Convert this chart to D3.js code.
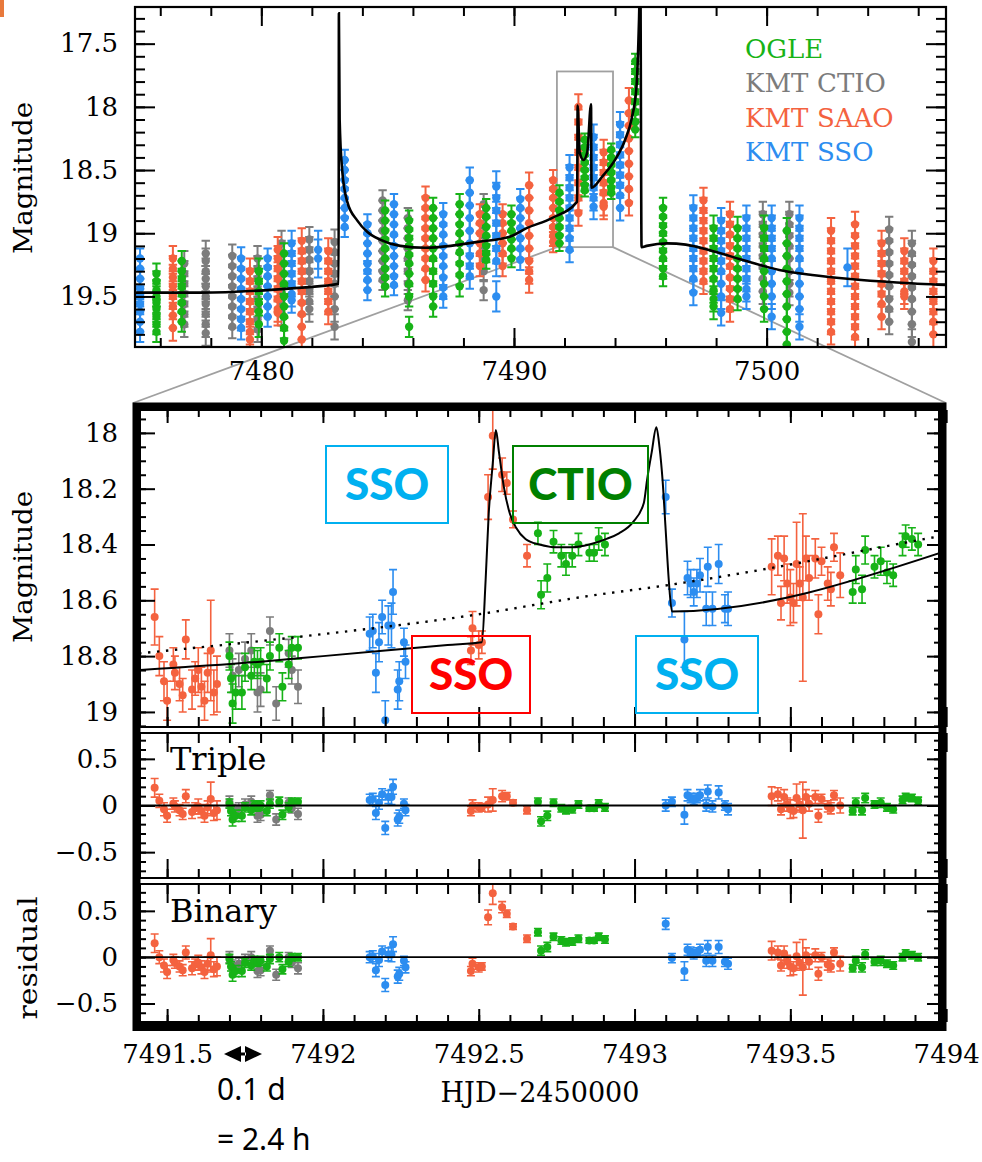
<!DOCTYPE html>
<html>
<head>
<meta charset="utf-8">
<script src="https://cdn.jsdelivr.net/npm/d3@7"></script>
<style>
  body { margin: 0; background: #fff; }
</style>
</head>
<body>
<svg id="chart" width="982" height="1162"></svg>
<script>
// ---- data ----
// top panel: nightly clusters [HJD', error, [magnitudes]]
const topOGLE = [
  [7475.85, 0.08, [19.32, 19.38, 19.45, 19.5, 19.55, 19.6, 19.66, 19.72, 19.78]],
  [7476.85, 0.08, [19.22, 19.3, 19.36, 19.42, 19.48, 19.55, 19.62, 19.7]],
  [7479.9, 0.1, [19.3, 19.38, 19.46, 19.55, 19.62, 19.72]],
  [7480.9, 0.08, [19.16, 19.24, 19.32, 19.4, 19.5, 19.58, 19.66, 19.75, 19.85]],
  [7484.9, 0.08, [18.82, 18.9, 18.98, 19.05, 19.12, 19.2, 19.28, 19.35, 19.42]],
  [7485.85, 0.08, [18.9, 18.97, 19.04, 19.1, 19.17, 19.24, 19.32, 19.4, 19.5, 19.74]],
  [7486.8, 0.08, [18.8, 18.88, 18.96, 19.04, 19.12, 19.2, 19.3, 19.4, 19.5, 19.58]],
  [7487.85, 0.08, [18.77, 18.85, 18.93, 19.0, 19.08, 19.15, 19.24, 19.33, 19.42]],
  [7488.9, 0.07, [18.8, 18.87, 18.95, 19.02, 19.1, 19.16, 19.21]],
  [7489.9, 0.07, [18.85, 18.92, 18.98, 19.05, 19.12, 19.2]],
  [7491.8, 0.06, [18.68, 18.75, 18.82, 18.88, 18.95, 19.02, 19.08]],
  [7492.8, 0.05, [18.26, 18.32, 18.38, 18.44, 18.5, 18.56, 18.62, 18.66]],
  [7493.85, 0.05, [18.34, 18.4, 18.46, 18.52, 18.58, 18.64, 18.68]],
  [7494.8, 0.06, [17.64, 17.72, 17.8, 17.88, 17.96, 18.04, 18.12, 18.18]],
  [7495.9, 0.08, [18.8, 18.87, 18.94, 19.0, 19.07, 19.14, 19.2, 19.28, 19.34]],
  [7497.9, 0.1, [18.96, 19.04, 19.12, 19.2, 19.28, 19.36, 19.45, 19.52, 19.58]],
  [7498.85, 0.09, [18.96, 19.04, 19.12, 19.2, 19.28, 19.36, 19.44, 19.52]],
  [7499.9, 0.1, [18.96, 19.04, 19.12, 19.2, 19.3, 19.4, 19.5, 19.6]],
  [7500.8, 0.1, [18.98, 19.08, 19.18, 19.28, 19.38, 19.48, 19.58, 19.68, 19.78, 19.88]]
];
const topCTIO = [
  [7476.95, 0.1, [19.24, 19.32, 19.4, 19.48, 19.56, 19.64, 19.72]],
  [7477.8, 0.1, [19.16, 19.22, 19.3, 19.36, 19.42, 19.5, 19.56, 19.64, 19.72, 19.79]],
  [7478.85, 0.09, [19.18, 19.26, 19.34, 19.42, 19.5, 19.58, 19.66, 19.74]],
  [7479.85, 0.1, [19.2, 19.28, 19.36, 19.44, 19.52, 19.6, 19.68, 19.76]],
  [7480.8, 0.1, [19.08, 19.16, 19.24, 19.32, 19.4, 19.48, 19.56, 19.63]],
  [7481.9, 0.1, [19.05, 19.13, 19.21, 19.3, 19.38, 19.46, 19.54, 19.6]],
  [7482.9, 0.1, [19.07, 19.15, 19.24, 19.32, 19.4, 19.5, 19.6, 19.74]],
  [7484.8, 0.08, [18.74, 18.82, 18.9, 18.98, 19.06, 19.14, 19.22, 19.3, 19.37]],
  [7485.8, 0.08, [18.88, 18.96, 19.04, 19.12, 19.2, 19.3, 19.4, 19.53]],
  [7488.8, 0.08, [18.77, 18.85, 18.94, 19.02, 19.1, 19.2, 19.3, 19.45]],
  [7499.85, 0.1, [18.85, 18.93, 19.01, 19.1, 19.18, 19.27, 19.36, 19.46]],
  [7500.9, 0.1, [18.85, 18.93, 19.02, 19.1, 19.2, 19.3, 19.4, 19.47]],
  [7504.85, 0.1, [18.97, 19.06, 19.15, 19.24, 19.33, 19.42, 19.52, 19.6, 19.7]],
  [7505.75, 0.1, [19.08, 19.16, 19.25, 19.34, 19.43, 19.52, 19.62, 19.72, 19.86]]
];
const topSAAO = [
  [7476.5, 0.1, [19.2, 19.28, 19.35, 19.42, 19.5, 19.58, 19.65, 19.75]],
  [7479.55, 0.1, [19.3, 19.38, 19.46, 19.54, 19.62, 19.7, 19.78, 19.84]],
  [7480.65, 0.1, [19.13, 19.2, 19.28, 19.36, 19.44, 19.52, 19.6, 19.63]],
  [7481.6, 0.1, [19.06, 19.14, 19.22, 19.3, 19.38, 19.46, 19.55, 19.64, 19.74, 19.84]],
  [7482.65, 0.1, [19.14, 19.22, 19.3, 19.38, 19.46, 19.54, 19.62]],
  [7486.5, 0.09, [18.72, 18.8, 18.88, 18.96, 19.04, 19.12, 19.2, 19.28, 19.37]],
  [7488.65, 0.08, [18.85, 18.92, 19.0, 19.08, 19.16, 19.26]],
  [7489.55, 0.08, [18.85, 18.92, 19.0, 19.08, 19.16, 19.26]],
  [7490.6, 0.1, [18.62, 18.72, 18.82, 18.92, 19.02, 19.12, 19.22, 19.3, 19.37]],
  [7491.55, 0.08, [18.58, 18.65, 18.72, 18.8, 18.88, 18.95, 19.02, 19.07]],
  [7492.55, 0.1, [18.0, 18.12, 18.24, 18.36, 18.48, 18.6, 18.72, 18.84]],
  [7493.55, 0.1, [18.36, 18.44, 18.52, 18.6, 18.68, 18.76, 18.79]],
  [7494.55, 0.1, [17.95, 18.05, 18.15, 18.25, 18.35, 18.45, 18.55, 18.65, 18.76]],
  [7497.5, 0.1, [18.74, 18.82, 18.9, 18.98, 19.06, 19.14, 19.22, 19.3, 19.38]],
  [7498.55, 0.1, [18.85, 18.93, 19.01, 19.1, 19.18, 19.26, 19.35, 19.44, 19.52, 19.6]],
  [7502.55, 0.1, [18.98, 19.06, 19.14, 19.22, 19.3, 19.38, 19.46, 19.54, 19.62, 19.7, 19.78]],
  [7503.5, 0.1, [18.93, 19.02, 19.1, 19.18, 19.26, 19.34, 19.42, 19.5, 19.58, 19.66, 19.74, 19.82]],
  [7504.55, 0.1, [19.08, 19.16, 19.24, 19.32, 19.4, 19.48, 19.56, 19.66]],
  [7505.45, 0.1, [19.14, 19.22, 19.3, 19.38, 19.46, 19.5]],
  [7506.6, 0.1, [19.22, 19.3, 19.38, 19.46, 19.54, 19.62, 19.7, 19.8]]
];
const topSSO = [
  [7475.2, 0.08, [19.2, 19.28, 19.36, 19.44, 19.5, 19.56, 19.62, 19.7, 19.78]],
  [7479.2, 0.09, [19.2, 19.28, 19.36, 19.44, 19.52, 19.6, 19.68, 19.75]],
  [7480.25, 0.08, [19.2, 19.27, 19.34, 19.42, 19.5, 19.58, 19.66]],
  [7481.2, 0.1, [19.08, 19.16, 19.24, 19.32, 19.4, 19.48, 19.53]],
  [7482.25, 0.15, [19.13, 19.2]],
  [7483.3, 0.08, [18.42, 18.5, 18.58, 18.65, 18.72, 18.8, 18.88, 18.95]],
  [7484.2, 0.08, [18.93, 19.0, 19.08, 19.16, 19.24, 19.3, 19.37, 19.45]],
  [7485.25, 0.08, [18.77, 18.85, 18.93, 19.01, 19.1, 19.18, 19.26, 19.34, 19.41]],
  [7487.2, 0.09, [18.85, 18.93, 19.01, 19.1, 19.18, 19.26, 19.35, 19.43, 19.5]],
  [7488.25, 0.1, [18.58, 18.68, 18.78, 18.88, 18.98, 19.08, 19.18, 19.26, 19.34]],
  [7489.3, 0.12, [18.63, 18.72, 18.82, 18.92, 19.02, 19.12, 19.22, 19.5]],
  [7490.25, 0.08, [18.73, 18.8, 18.88, 18.96, 19.04, 19.12, 19.21]],
  [7492.2, 0.1, [18.48, 18.56, 18.64, 18.72, 18.8, 18.88, 18.96, 19.04, 19.13]],
  [7493.15, 0.1, [18.24, 18.32, 18.4, 18.48, 18.56, 18.64, 18.72, 18.79]],
  [7494.2, 0.1, [18.14, 18.22, 18.3, 18.38, 18.46, 18.54, 18.62, 18.7, 18.8]],
  [7497.1, 0.1, [18.8, 18.88, 18.96, 19.04, 19.12, 19.2, 19.28, 19.36, 19.47]],
  [7498.2, 0.1, [18.9, 18.98, 19.06, 19.14, 19.22, 19.3, 19.4, 19.5, 19.63]],
  [7499.2, 0.1, [18.88, 18.96, 19.04, 19.12, 19.2, 19.28, 19.36, 19.44, 19.5]],
  [7500.2, 0.1, [18.88, 18.96, 19.04, 19.12, 19.2, 19.3, 19.4, 19.5, 19.66]],
  [7501.3, 0.1, [18.88, 18.96, 19.04, 19.12, 19.2, 19.3, 19.4, 19.5, 19.6, 19.74]],
  [7503.2, 0.15, [19.27]]
];

// zoomed panels: [HJD', magnitude, error, triple residual, binary residual]
const lowSAAO = [
  [7491.46, 18.66, 0.10, 0.19, 0.15], [7491.475, 18.80, 0.07, 0.05, 0.00],
  [7491.49, 18.89, 0.07, -0.04, -0.09], [7491.50, 18.96, 0.07, -0.11, -0.16],
  [7491.52, 18.83, 0.06, 0.02, -0.03], [7491.525, 18.86, 0.06, -0.01, -0.06],
  [7491.54, 18.90, 0.06, -0.05, -0.10], [7491.55, 18.94, 0.06, -0.09, -0.14],
  [7491.56, 18.74, 0.07, 0.10, 0.05], [7491.58, 18.92, 0.07, -0.07, -0.12],
  [7491.59, 18.88, 0.06, -0.03, -0.08], [7491.60, 18.85, 0.08, -0.01, -0.06],
  [7491.61, 18.91, 0.07, -0.06, -0.11], [7491.62, 18.96, 0.07, -0.11, -0.16],
  [7491.63, 18.86, 0.07, -0.02, -0.07], [7491.64, 18.78, 0.18, 0.07, 0.02],
  [7491.65, 18.93, 0.08, -0.08, -0.13], [7491.66, 18.90, 0.10, -0.05, -0.10],
  [7492.475, 18.78, 0.05, -0.06, -0.15], [7492.48, 18.70, 0.06, 0.00, -0.07],
  [7492.50, 18.76, 0.05, -0.02, -0.11], [7492.51, 18.75, 0.04, -0.02, -0.10],
  [7492.53, 18.23, 0.08, 0.01, 0.43], [7492.545, 18.01, 0.12, 0.06, 0.69],
  [7492.575, 18.15, 0.06, 0.10, 0.54], [7492.59, 18.18, 0.04, 0.10, 0.47],
  [7492.61, 18.31, 0.03, 0.03, 0.33], [7492.655, 18.44, 0.04, -0.05, 0.20],
  [7493.44, 18.48, 0.10, 0.10, 0.07], [7493.46, 18.44, 0.07, 0.12, 0.05],
  [7493.47, 18.61, 0.06, -0.04, -0.09], [7493.48, 18.45, 0.08, 0.09, 0.04],
  [7493.49, 18.54, 0.07, 0.01, -0.05], [7493.50, 18.59, 0.10, -0.04, -0.10],
  [7493.51, 18.61, 0.07, -0.06, -0.12], [7493.52, 18.47, 0.15, 0.08, 0.01],
  [7493.53, 18.54, 0.06, 0.01, -0.06], [7493.54, 18.59, 0.30, -0.05, -0.11],
  [7493.55, 18.45, 0.08, 0.09, 0.02], [7493.56, 18.52, 0.08, 0.02, -0.05],
  [7493.58, 18.45, 0.07, 0.09, 0.02], [7493.59, 18.65, 0.07, -0.11, -0.18],
  [7493.60, 18.46, 0.05, 0.07, 0.00], [7493.62, 18.54, 0.06, -0.01, -0.08],
  [7493.63, 18.56, 0.06, -0.03, -0.10], [7493.64, 18.41, 0.05, 0.11, 0.05],
  [7493.66, 18.51, 0.08, 0.00, -0.07]
];
const lowCTIO = [
  [7491.70, 18.78, 0.06, 0.04, 0.00], [7491.71, 18.87, 0.06, -0.05, -0.09],
  [7491.73, 18.85, 0.06, -0.03, -0.07], [7491.75, 18.81, 0.06, 0.01, -0.03],
  [7491.77, 18.78, 0.06, 0.04, 0.00], [7491.79, 18.93, 0.07, -0.11, -0.15],
  [7491.80, 18.92, 0.06, -0.10, -0.14], [7491.83, 18.71, 0.05, 0.11, 0.07],
  [7491.85, 18.97, 0.06, -0.15, -0.19], [7491.89, 18.79, 0.05, 0.03, 0.00],
  [7491.90, 18.85, 0.05, -0.03, -0.06], [7491.92, 18.91, 0.06, -0.09, -0.12]
];
const lowOGLE = [
  [7491.70, 18.80, 0.05, 0.02, -0.02], [7491.705, 18.88, 0.05, -0.06, -0.10],
  [7491.71, 18.97, 0.07, -0.15, -0.19], [7491.72, 18.93, 0.06, -0.11, -0.15],
  [7491.74, 18.93, 0.06, -0.11, -0.15], [7491.75, 18.84, 0.05, -0.02, -0.06],
  [7491.77, 18.87, 0.05, -0.05, -0.09], [7491.78, 18.82, 0.05, 0.00, -0.04],
  [7491.79, 18.83, 0.05, -0.01, -0.05], [7491.80, 18.82, 0.05, 0.00, -0.04],
  [7491.82, 18.88, 0.05, -0.06, -0.10], [7491.83, 18.80, 0.05, 0.02, -0.02],
  [7491.86, 18.77, 0.05, 0.04, 0.00], [7491.87, 18.91, 0.05, -0.10, -0.13],
  [7491.89, 18.83, 0.05, -0.02, -0.05], [7491.90, 18.77, 0.04, 0.04, 0.00],
  [7491.92, 18.77, 0.04, 0.04, 0.00],
  [7492.69, 18.36, 0.04, 0.04, 0.27], [7492.70, 18.58, 0.05, -0.17, 0.07],
  [7492.72, 18.52, 0.05, -0.11, 0.11], [7492.74, 18.39, 0.04, 0.03, 0.22],
  [7492.765, 18.44, 0.04, -0.03, 0.18], [7492.78, 18.47, 0.04, -0.05, 0.16],
  [7492.80, 18.44, 0.04, -0.04, 0.17], [7492.82, 18.40, 0.04, 0.01, 0.20],
  [7492.855, 18.43, 0.03, -0.03, 0.18], [7492.87, 18.43, 0.03, -0.03, 0.18],
  [7492.885, 18.38, 0.04, 0.02, 0.22], [7492.905, 18.40, 0.04, -0.02, 0.19],
  [7493.70, 18.57, 0.04, -0.06, -0.12], [7493.71, 18.49, 0.05, 0.03, -0.04],
  [7493.73, 18.56, 0.05, -0.05, -0.11], [7493.74, 18.42, 0.05, 0.08, 0.03],
  [7493.77, 18.48, 0.04, 0.01, -0.05], [7493.79, 18.46, 0.05, 0.03, -0.04],
  [7493.81, 18.50, 0.04, -0.02, -0.07], [7493.83, 18.51, 0.04, -0.04, -0.09],
  [7493.86, 18.40, 0.04, 0.06, 0.00], [7493.87, 18.37, 0.04, 0.09, 0.04],
  [7493.89, 18.38, 0.04, 0.08, 0.02], [7493.91, 18.40, 0.04, 0.05, 0.00]
];
const lowSSO = [
  [7492.15, 18.72, 0.06, 0.06, 0.00], [7492.16, 18.71, 0.06, 0.07, 0.01],
  [7492.17, 18.86, 0.07, -0.08, -0.14], [7492.18, 18.75, 0.07, 0.03, -0.03],
  [7492.19, 18.66, 0.06, 0.12, 0.06], [7492.20, 19.03, 0.07, -0.24, -0.30],
  [7492.21, 18.69, 0.07, 0.09, 0.03], [7492.22, 18.69, 0.08, 0.09, 0.03],
  [7492.225, 18.57, 0.08, 0.20, 0.14], [7492.24, 18.92, 0.07, -0.15, -0.21],
  [7492.245, 18.89, 0.07, -0.12, -0.18], [7492.26, 18.75, 0.05, 0.02, -0.04],
  [7492.265, 18.82, 0.06, -0.05, -0.11],
  [7493.10, 18.23, 0.06, 0.00, 0.36], [7493.12, 18.61, 0.05, 0.04, -0.01],
  [7493.16, 18.74, 0.10, -0.10, -0.15], [7493.17, 18.52, 0.06, 0.11, 0.08],
  [7493.18, 18.54, 0.05, 0.08, 0.06], [7493.19, 18.57, 0.05, 0.06, 0.03],
  [7493.20, 18.54, 0.05, 0.08, 0.05], [7493.21, 18.51, 0.06, 0.11, 0.08],
  [7493.23, 18.63, 0.06, 0.00, -0.04], [7493.235, 18.48, 0.07, 0.15, 0.11],
  [7493.25, 18.63, 0.06, -0.01, -0.04], [7493.27, 18.47, 0.07, 0.14, 0.11],
  [7493.29, 18.63, 0.05, 0.00, -0.05], [7493.30, 18.63, 0.06, -0.04, -0.07]
];

// model light curves [HJD', magnitude]
const topModel = [
  [7475.0, 19.47], [7477.6, 19.47], [7480.25, 19.45], [7481.6, 19.43], [7483.06, 19.40],
  [7483.07, 17.26], [7483.1, 18.1], [7483.2, 18.5], [7483.4, 18.75], [7483.8, 18.9],
  [7484.2, 18.99], [7484.7, 19.05], [7485.5, 19.1], [7486.5, 19.115], [7487.5, 19.1],
  [7488.5, 19.07], [7489.8, 19.03], [7490.5, 18.96], [7491.5, 18.88], [7492.5, 18.75],
  [7492.52, 17.99], [7492.6, 18.36], [7492.75, 18.42], [7492.9, 18.36], [7493.05, 17.98],
  [7493.07, 18.64], [7493.5, 18.55], [7494.0, 18.42], [7494.4, 18.26], [7494.65, 18.1],
  [7494.85, 17.84], [7494.95, 17.31], [7495.0, 16.9], [7495.05, 19.11], [7495.25, 19.1],
  [7496.05, 19.08], [7496.8, 19.09], [7497.85, 19.14], [7499.2, 19.22], [7500.5, 19.29],
  [7501.8, 19.33], [7503.2, 19.36], [7505.15, 19.39], [7507.1, 19.41]
];
const tripleModel = [
  [7491.41, 18.85], [7491.8, 18.82], [7492.0, 18.80], [7492.2, 18.78], [7492.4, 18.76],
  [7492.51, 18.75], [7492.522, 18.53], [7492.532, 18.29], [7492.545, 18.11], [7492.555, 17.99],
  [7492.565, 18.07], [7492.58, 18.19], [7492.60, 18.29], [7492.62, 18.34], [7492.65, 18.38],
  [7492.695, 18.40], [7492.75, 18.41], [7492.80, 18.41], [7492.855, 18.40], [7492.91, 18.38],
  [7492.95, 18.36], [7492.995, 18.32], [7493.03, 18.25], [7493.04, 18.17], [7493.055, 18.07],
  [7493.07, 17.98], [7493.08, 18.05], [7493.09, 18.17], [7493.10, 18.35], [7493.11, 18.53],
  [7493.12, 18.64], [7493.98, 18.43]
];
const binaryModel = [
  [7491.41, 18.79], [7491.93, 18.73], [7492.50, 18.65], [7492.82, 18.59],
  [7493.14, 18.54], [7493.46, 18.48], [7493.79, 18.41], [7493.98, 18.37]
];

const topXTicks = [7480, 7490, 7500];
const topYTicks = [17.5, 18, 18.5, 19, 19.5];
const lowXTicks = [7491.5, 7492, 7492.5, 7493, 7493.5, 7494];
const mainYTicks = [18, 18.2, 18.4, 18.6, 18.8, 19];
const resYTicks = [-0.5, 0, 0.5];
const legendNames = [["OGLE", ""], ["KMT", "CTIO"], ["KMT", "SAAO"], ["KMT", "SSO"]];
const zoomBox = [7491.7, 7493.92, 17.72, 19.11];

const colors = { ogle: "#17b317", ctio: "#7c7c7c", saao: "#f4623f", sso: "#2c8df0" };
const serif = "DejaVu Serif";

// ---- setup ----
const svg = d3.select("#chart");
svg.append("rect").attr("x", 0).attr("y", 0).attr("width", 4).attr("height", 17).attr("fill", "#e8793c");

const fmt = d => d < 0 ? "\u2212" + Math.abs(d) : String(d);

function styleAxis(g, size) {
  g.select(".domain").remove();
  g.selectAll("line").attr("stroke", "#000").attr("stroke-width", 2);
  g.selectAll("text").attr("font-family", serif).attr("font-size", size).attr("fill", "#000");
}

function clip(id, x, y, w, h) {
  svg.append("clipPath").attr("id", id).append("rect")
    .attr("x", x).attr("y", y).attr("width", w).attr("height", h);
  return `url(#${id})`;
}

function drawPoints(g, rows, x, y, color, r, cap, sw = 1.6) {
  const p = g.append("g").attr("stroke", color).attr("fill", color).attr("stroke-width", sw);
  p.selectAll("path").data(rows).join("path")
    .attr("fill", "none")
    .attr("d", d => {
      const cx = x(d[0]), y0 = y(d[1] - d[2]), y1 = y(d[1] + d[2]);
      return `M${cx},${y0}V${y1}M${cx - cap},${y0}H${cx + cap}M${cx - cap},${y1}H${cx + cap}`;
    });
  p.selectAll("circle").data(rows).join("circle")
    .attr("stroke", "none")
    .attr("cx", d => x(d[0])).attr("cy", d => y(d[1])).attr("r", r);
}

// ---- top panel ----
const T = { l: 135, r: 946, t: 7, b: 347 };
const xTop = d3.scaleLinear().domain([7475, 7507.1]).range([T.l, T.r]);
const yTop = d3.scaleLinear().domain([17.21, 19.90]).range([T.t, T.b]);

// zoom box and connectors
const zb = svg.append("g").attr("stroke", "#a0a0a0").attr("stroke-width", 1.8).attr("fill", "none");
zb.append("rect")
  .attr("x", xTop(zoomBox[0])).attr("y", yTop(zoomBox[2]))
  .attr("width", xTop(zoomBox[1]) - xTop(zoomBox[0]))
  .attr("height", yTop(zoomBox[3]) - yTop(zoomBox[2]));
zb.append("line").attr("x1", xTop(zoomBox[0])).attr("y1", yTop(zoomBox[3])).attr("x2", 133).attr("y2", 403);
zb.append("line").attr("x1", xTop(zoomBox[1])).attr("y1", yTop(zoomBox[3])).attr("x2", 946).attr("y2", 403);

const gTop = svg.append("g").attr("clip-path", clip("clipTop", T.l, T.t, T.r - T.l, T.b - T.t));
const expand = cl => cl.flatMap(([t, e, ms]) => ms.map(m => [t, m, e]));
drawPoints(gTop, expand(topCTIO), xTop, yTop, colors.ctio, 4.2, 4.2, 2);
drawPoints(gTop, expand(topSAAO), xTop, yTop, colors.saao, 4.2, 4.2, 2);
drawPoints(gTop, expand(topSSO), xTop, yTop, colors.sso, 4.2, 4.2, 2);
drawPoints(gTop, expand(topOGLE), xTop, yTop, colors.ogle, 4.2, 4.2, 2);

gTop.append("path").datum(topModel)
  .attr("fill", "none").attr("stroke", "#000").attr("stroke-width", 2.6)
  .attr("d", d3.line().x(d => xTop(d[0])).y(d => yTop(d[1])).curve(d3.curveMonotoneX));

// top axes
const topXMinor = d3.range(7476, 7507, 2);
const topYMinor = d3.range(17.3, 19.9, 0.1);
svg.append("g").attr("transform", `translate(0,${T.b})`)
  .call(d3.axisBottom(xTop).tickValues(topXTicks).tickSize(-19).tickPadding(15).tickFormat(fmt))
  .call(g => styleAxis(g, 26));
svg.append("g").attr("transform", `translate(0,${T.b})`)
  .call(d3.axisBottom(xTop).tickValues(topXMinor).tickSize(-9).tickFormat(""))
  .call(g => styleAxis(g, 26));
svg.append("g").attr("transform", `translate(0,${T.t})`)
  .call(d3.axisTop(xTop).tickValues(topXTicks).tickSize(-19).tickFormat(""))
  .call(g => styleAxis(g, 26));
svg.append("g").attr("transform", `translate(0,${T.t})`)
  .call(d3.axisTop(xTop).tickValues(topXMinor).tickSize(-9).tickFormat(""))
  .call(g => styleAxis(g, 26));
svg.append("g").attr("transform", `translate(${T.l},0)`)
  .call(d3.axisLeft(yTop).tickValues(topYTicks).tickSize(-20).tickPadding(17).tickFormat(fmt))
  .call(g => styleAxis(g, 26));
svg.append("g").attr("transform", `translate(${T.l},0)`)
  .call(d3.axisLeft(yTop).tickValues(topYMinor).tickSize(-10).tickFormat(""))
  .call(g => styleAxis(g, 26));
svg.append("g").attr("transform", `translate(${T.r},0)`)
  .call(d3.axisRight(yTop).tickValues(topYTicks).tickSize(-20).tickFormat(""))
  .call(g => styleAxis(g, 26));
svg.append("g").attr("transform", `translate(${T.r},0)`)
  .call(d3.axisRight(yTop).tickValues(topYMinor).tickSize(-10).tickFormat(""))
  .call(g => styleAxis(g, 26));
svg.append("rect").attr("x", T.l).attr("y", T.t).attr("width", T.r - T.l).attr("height", T.b - T.t)
  .attr("fill", "none").attr("stroke", "#000").attr("stroke-width", 2.2);

svg.append("text").attr("transform", "translate(32,178) rotate(-90)")
  .attr("text-anchor", "middle").attr("font-family", serif).attr("font-size", 26)
  .attr("textLength", 152).attr("lengthAdjust", "spacingAndGlyphs").text("Magnitude");

// legend
const legendColors = [colors.ogle, colors.ctio, colors.saao, colors.sso];
legendNames.forEach(([a, b], i) => {
  const yb = 58 + i * 34.4;
  svg.append("text").attr("x", 745).attr("y", yb).attr("fill", legendColors[i])
    .attr("font-family", serif).attr("font-size", 26).text(a);
  if (b) svg.append("text").attr("x", 817).attr("y", yb).attr("fill", legendColors[i])
    .attr("font-family", serif).attr("font-size", 26).text(b);
});

// ---- zoomed panels ----
const L = { l: 140, r: 939 };
const panels = {
  main: [410, 727], tri: [733, 878], bin: [884, 1022]
};
const xLow = d3.scaleLinear().domain([7491.413, 7493.977]).range([L.l, L.r]);
const yMain = d3.scaleLinear().domain([17.918, 19.054]).range([410, 727]);
const yTri = d3.scaleLinear().domain([-0.777, 0.777]).range([878, 733]);
const yBin = d3.scaleLinear().domain([-0.70, 0.79]).range([1022, 884]);

const lowXMinor = d3.range(7491.5, 7494, 0.1).map(v => +v.toFixed(2));
const mainYMinor = d3.range(17.95, 19.06, 0.05).map(v => +v.toFixed(2));
const resYMinor = d3.range(-0.7, 0.75, 0.1).map(v => +v.toFixed(2));

function panelAxes(y0, y1, yScale, yMaj, yMin, xTopLen, xBotLen) {
  const add = (tr, axis, size) => svg.append("g").attr("transform", tr).call(axis).call(g => styleAxis(g, size));
  add(`translate(0,${y0})`, d3.axisTop(xLow).tickValues(lowXTicks).tickSize(-xTopLen[0]).tickFormat(""), 26);
  add(`translate(0,${y0})`, d3.axisTop(xLow).tickValues(lowXMinor).tickSize(-xTopLen[1]).tickFormat(""), 26);
  add(`translate(0,${y1})`, d3.axisBottom(xLow).tickValues(lowXTicks).tickSize(-xBotLen[0]).tickFormat(""), 26);
  add(`translate(0,${y1})`, d3.axisBottom(xLow).tickValues(lowXMinor).tickSize(-xBotLen[1]).tickFormat(""), 26);
  add(`translate(${L.l},0)`, d3.axisLeft(yScale).tickValues(yMaj).tickSize(-15).tickPadding(22).tickFormat(fmt), 26);
  add(`translate(${L.l},0)`, d3.axisLeft(yScale).tickValues(yMin).tickSize(-6).tickFormat(""), 26);
  add(`translate(${L.r},0)`, d3.axisRight(yScale).tickValues(yMaj).tickSize(-12).tickFormat(""), 26);
  add(`translate(${L.r},0)`, d3.axisRight(yScale).tickValues(yMin).tickSize(-5).tickFormat(""), 26);
  svg.append("rect").attr("x", L.l).attr("y", y0).attr("width", L.r - L.l).attr("height", y1 - y0)
    .attr("fill", "none").attr("stroke", "#000").attr("stroke-width", 2);
}

// main panel
const gMain = svg.append("g").attr("clip-path", clip("clipMain", L.l, 410, L.r - L.l, 317));
drawPoints(gMain, lowSAAO, xLow, yMain, colors.saao, 4, 4);
drawPoints(gMain, lowCTIO, xLow, yMain, colors.ctio, 4, 4);
drawPoints(gMain, lowOGLE, xLow, yMain, colors.ogle, 4, 4);
drawPoints(gMain, lowSSO, xLow, yMain, colors.sso, 4, 4);
gMain.append("path").datum(binaryModel)
  .attr("fill", "none").attr("stroke", "#000").attr("stroke-width", 2.4)
  .attr("stroke-dasharray", "2.4,6.6")
  .attr("d", d3.line().x(d => xLow(d[0])).y(d => yMain(d[1])).curve(d3.curveMonotoneX));
gMain.append("path").datum(tripleModel)
  .attr("fill", "none").attr("stroke", "#000").attr("stroke-width", 2)
  .attr("d", d3.line().x(d => xLow(d[0])).y(d => yMain(d[1])).curve(d3.curveMonotoneX));
panelAxes(410, 727, yMain, mainYTicks, mainYMinor, [13, 7], [20, 10]);

// residual panels
const resRows = (rows, k) => rows.map(d => [d[0], d[k], d[2]]);
[["tri", yTri, 3, "Triple", 770], ["bin", yBin, 4, "Binary", 922]].forEach(([key, ys, k, label, yl]) => {
  const [y0, y1] = panels[key];
  const g = svg.append("g").attr("clip-path", clip("clip" + key, L.l, y0, L.r - L.l, y1 - y0));
  drawPoints(g, resRows(lowSAAO, k), xLow, ys, colors.saao, 4, 4);
  drawPoints(g, resRows(lowCTIO, k), xLow, ys, colors.ctio, 4, 4);
  drawPoints(g, resRows(lowOGLE, k), xLow, ys, colors.ogle, 4, 4);
  drawPoints(g, resRows(lowSSO, k), xLow, ys, colors.sso, 4, 4);
  g.append("line").attr("x1", L.l).attr("x2", L.r).attr("y1", ys(0)).attr("y2", ys(0))
    .attr("stroke", "#000").attr("stroke-width", 1.8);
  panelAxes(y0, y1, ys, resYTicks, resYMinor, [19, 10], key === "bin" ? [13, 7] : [19, 9]);
  svg.append("text").attr("x", 170).attr("y", yl).attr("font-family", serif).attr("font-size", 32).text(label);
});

// bottom x labels
svg.append("g").attr("transform", "translate(0,1022)")
  .call(d3.axisBottom(xLow).tickValues(lowXTicks).tickSize(0).tickPadding(23).tickFormat(fmt))
  .call(g => styleAxis(g, 26));

// heavy frame
svg.append("rect").attr("x", 136.5).attr("y", 406.5).attr("width", 806).attr("height", 620.5)
  .attr("fill", "none").attr("stroke", "#000").attr("stroke-width", 8);

// annotation boxes
const boxes = [
  [326, 446, 122, 77, "#00b0f0", "SSO"],
  [513, 446, 135, 77, "#008000", "CTIO"],
  [412, 636, 118, 77, "#ff0000", "SSO"],
  [636, 636, 122, 77, "#00b0f0", "SSO"]
];
boxes.forEach(([x, y, w, h, c, s]) => {
  svg.append("rect").attr("x", x).attr("y", y).attr("width", w).attr("height", h)
    .attr("fill", "none").attr("stroke", c).attr("stroke-width", 2);
  svg.append("text").attr("x", x + w / 2).attr("y", y + 54).attr("text-anchor", "middle")
    .attr("font-family", "Lato").attr("font-weight", 900).attr("font-size", 44).attr("fill", c).text(s);
});

// axis titles
svg.append("text").attr("transform", "translate(32,567) rotate(-90)")
  .attr("text-anchor", "middle").attr("font-family", serif).attr("font-size", 26)
  .attr("textLength", 152).attr("lengthAdjust", "spacingAndGlyphs").text("Magnitude");
svg.append("text").attr("transform", "translate(37,958) rotate(-90)")
  .attr("text-anchor", "middle").attr("font-family", serif).attr("font-size", 26)
  .attr("textLength", 123).attr("lengthAdjust", "spacingAndGlyphs").text("residual");
svg.append("text").attr("x", 540).attr("y", 1102).attr("text-anchor", "middle")
  .attr("font-family", serif).attr("font-size", 27).text("HJD\u22122450000");

// 0.1 d scale note
svg.append("path").attr("fill", "#000")
  .attr("d", "M224,1054L241,1046V1062ZM262,1054L245,1046V1062ZM240,1052.5H246V1055.5H240Z");
svg.append("text").attr("x", 217).attr("y", 1100).attr("font-family", "Noto Sans")
  .attr("font-size", 30).text("0.1 d");
svg.append("text").attr("x", 217).attr("y", 1150).attr("font-family", "Noto Sans")
  .attr("font-size", 30).text("= 2.4 h");
</script>
</body>
</html>
